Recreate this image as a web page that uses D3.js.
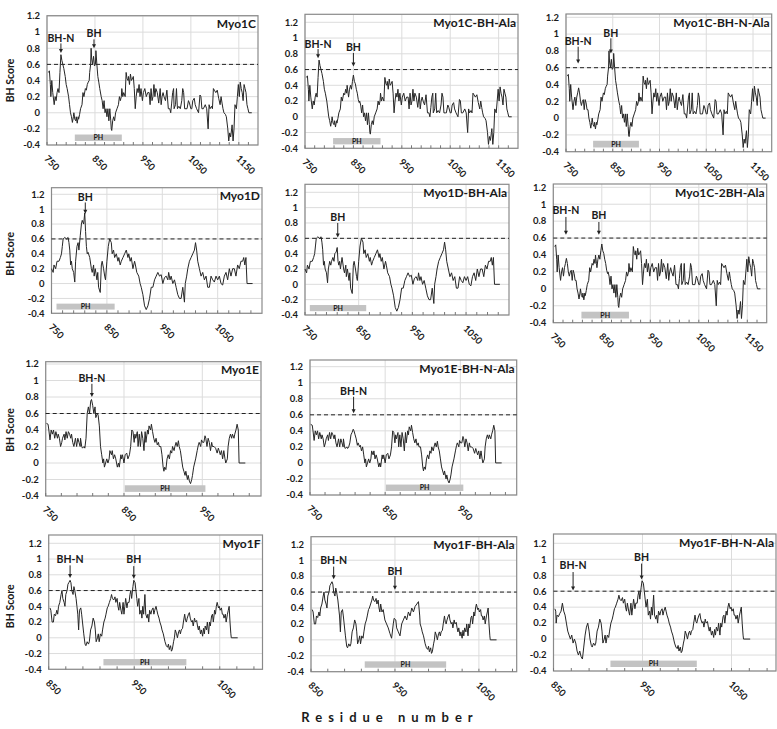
<!DOCTYPE html>
<html><head><meta charset="utf-8">
<script src="https://cdn.jsdelivr.net/npm/d3@7"></script>
<style>
body{margin:0;background:#fff}
svg{display:block}
text{font-family:Lato,"Open Sans",sans-serif;font-weight:bold;fill:#1a1a1a}
</style></head>
<body><svg id="c" width="777" height="729"></svg>
<script>
// ---------------- DATA ----------------
const yTicks = [-0.4, -0.2, 0, 0.2, 0.4, 0.6, 0.8, 1, 1.2];
const threshold = 0.6;
const ticks1C = [750, 850, 950, 1050, 1150];
const ticks1D = [750, 850, 950, 1050];
const ticks1E = [750, 850, 950];
const ticks1F = [850, 950, 1050];

// [residue, BH score]
const myo1C = [[753,0.5],[755,0.52],[757,0.35],[758,0.2],[760,0.4],[762,0.25],[765,0.1],[767,0.2],[769,0.15],[771,0.25],[773,0.3],[775,0.25],[777,0.5],[779,0.72],[781,0.65],[783,0.6],[785,0.55],[788,0.45],[790,0.35],[792,0.3],[795,0.2],[797,0.1],[799,0.0],[801,-0.05],[803,-0.12],[805,-0.05],[806,0.0],[808,-0.08],[810,-0.1],[811,-0.05],[813,-0.13],[815,-0.05],[816,-0.08],[818,-0.02],[820,0.05],[823,0.1],[825,0.25],[827,0.2],[830,0.3],[832,0.28],[834,0.35],[836,0.38],[838,0.4],[839,0.5],[841,0.6],[842,0.8],[843,0.68],[845,0.6],[847,0.7],[849,0.58],[851,0.6],[852,0.77],[854,0.6],[856,0.45],[858,0.38],[860,0.3],[863,0.2],[865,0.15],[867,0.05],[869,0.15],[871,0.0],[873,0.05],[875,-0.05],[877,0.05],[879,-0.1],[881,0.05],[883,-0.1],[884,-0.2],[885,-0.22],[887,-0.1],[889,-0.05],[891,-0.1],[893,0.0],[896,0.05],[899,0.1],[901,0.2],[903,0.15],[905,0.2],[906,0.3],[908,0.2],[910,0.25],[913,0.2],[915,0.5],[917,0.42],[919,0.4],[920,0.45],[922,0.35],[924,0.48],[926,0.4],[928,0.42],[930,0.45],[932,0.3],[934,0.05],[936,0.2],[938,0.3],[940,0.25],[942,0.35],[944,0.2],[946,0.3],[949,0.15],[951,0.25],[954,0.3],[957,0.2],[960,0.25],[963,0.25],[965,0.1],[967,0.3],[969,0.15],[971,0.2],[973,0.35],[975,0.2],[977,0.3],[980,0.25],[983,0.12],[986,0.3],[988,0.1],[990,0.2],[992,0.25],[994,0.2],[997,0.15],[1000,0.28],[1003,0.05],[1006,0.05],[1008,0.0],[1010,0.12],[1012,0.25],[1014,0.3],[1015,0.05],[1018,0.1],[1020,0.3],[1022,0.05],[1025,0.08],[1028,0.05],[1031,0.15],[1033,0.3],[1035,0.25],[1037,0.05],[1040,0.05],[1042,0.05],[1045,0.15],[1047,0.12],[1050,0.05],[1052,0.05],[1054,0.15],[1057,0.18],[1059,0.1],[1062,0.05],[1066,0.0],[1069,0.22],[1071,0.2],[1073,0.05],[1076,0.05],[1080,0.1],[1083,0.05],[1086,-0.2],[1088,0.1],[1090,0.05],[1093,0.08],[1095,0.05],[1097,0.3],[1099,0.28],[1102,0.25],[1105,0.28],[1108,0.18],[1111,0.1],[1113,0.2],[1115,0.12],[1117,0.05],[1119,0.0],[1122,-0.02],[1124,-0.05],[1127,-0.2],[1129,-0.35],[1131,-0.25],[1133,-0.3],[1135,-0.2],[1136,-0.15],[1138,-0.35],[1140,-0.2],[1142,0.1],[1145,0.05],[1147,0.2],[1149,0.35],[1151,0.2],[1153,0.38],[1155,0.3],[1157,0.25],[1159,0.15],[1161,0.35],[1163,0.3],[1165,0.25],[1167,0.1],[1169,0.05],[1171,0.0],[1177,0.0]];
// BH -> Ala replacement segment (residues 836-862)
const myo1C_BHAla = [[836,0.3],[837,0.4],[839,0.3],[840,0.25],[842,0.35],[844,0.4],[846,0.35],[848,0.45],[850,0.53],[852,0.45],[854,0.42],[856,0.35],[858,0.3],[860,0.22],[862,0.18]];
// BH-N -> Ala replacement segment (residues 767-795)
const myo1C_BHNAla = [[767,0.2],[769,0.25],[771,0.15],[773,0.25],[775,0.3],[777,0.36],[779,0.3],[781,0.2],[783,0.15],[785,0.2],[787,0.22],[789,0.1],[791,0.22],[793,0.18],[795,0.1]];

const myo1D = [[750,0.2],[753,0.15],[754.5,0.25],[757.5,0.2],[760,0.3],[763.5,0.3],[766,0.35],[768,0.4],[769.5,0.5],[771,0.6],[774,0.62],[777,0.6],[780,0.62],[781.5,0.55],[783,0.45],[784.5,0.25],[786,0.3],[787.5,0.2],[790,0.15],[792,0.02],[793.5,0.3],[796,0.5],[798,0.55],[799.5,0.45],[802,0.65],[804,0.8],[805.5,0.85],[808,0.8],[810,0.95],[811.5,0.7],[813,0.5],[814.5,0.4],[816,0.42],[819,0.35],[822,0.2],[823.5,0.15],[826,0.25],[827,0.1],[829,0.2],[832,0.05],[833.5,0.15],[835,-0.05],[838,-0.12],[840,0.25],[841.5,0.3],[844,0.2],[846,0.1],[847.5,0.05],[850,0.3],[852.5,0.5],[855,0.6],[858,0.55],[859.5,0.4],[862,0.45],[864,0.35],[867,0.4],[870,0.3],[871.5,0.35],[874,0.25],[876,0.3],[879,0.35],[882,0.4],[885,0.45],[888,0.35],[889.5,0.4],[892,0.3],[894,0.35],[897,0.2],[900,0.3],[901.5,0.25],[904,0.15],[907.5,0.1],[910,0.0],[912,-0.05],[915,-0.15],[918,-0.3],[921,-0.35],[924,-0.3],[927,-0.2],[930,-0.05],[933,-0.05],[936,0.05],[939,0.1],[942,0.15],[945,0.1],[948,0.12],[951,0.0],[954,0.08],[957,0.1],[960,0.05],[961.5,0.15],[964,0.05],[966,0.1],[969,0.0],[972,0.05],[975,-0.05],[978,-0.15],[981,-0.2],[984,-0.2],[987,-0.05],[990,-0.25],[991.5,0.0],[994,0.1],[996,0.2],[999,0.3],[1002,0.35],[1005,0.4],[1008,0.45],[1010,0.55],[1012,0.45],[1014,0.3],[1017,0.2],[1020,0.1],[1023,0.15],[1026,0.05],[1029,0.1],[1032,-0.05],[1035,-0.05],[1038,0.1],[1041,0.05],[1044,0.02],[1047,0.1],[1050,0.05],[1053,0.1],[1056,0.0],[1059,-0.02],[1062,0.1],[1065,0.15],[1068,0.05],[1071,0.2],[1074,0.1],[1077,0.2],[1080,0.2],[1083,0.1],[1086,0.25],[1089,0.2],[1092,0.3],[1095,0.3],[1097,0.35],[1099,0.25],[1101,0.35],[1103,0.0],[1113,0.0]];
const myo1D_BHAla = [[793.5,0.2],[796,0.3],[798,0.25],[799.5,0.3],[802,0.35],[804,0.3],[805.5,0.4],[808,0.42],[810,0.48],[811.5,0.3],[813,0.25],[814.5,0.3],[816,0.2]];

const myo1E = [[751,0.48],[753,0.47],[754,0.4],[755.5,0.28],[757,0.4],[758.5,0.35],[760,0.4],[761.5,0.3],[763,0.38],[765,0.3],[766,0.35],[767.5,0.3],[769,0.2],[770.5,0.25],[771.5,0.3],[773.5,0.35],[774.5,0.28],[776,0.38],[777.5,0.3],[779,0.38],[780.5,0.35],[782,0.3],[783,0.35],[784.5,0.25],[786,0.2],[788,0.3],[789.5,0.2],[791,0.3],[792.5,0.25],[794,0.2],[794.5,0.3],[796,0.2],[797,0.18],[799,0.2],[800,0.18],[801.5,0.3],[803,0.6],[804.5,0.68],[806,0.6],[807.5,0.75],[808.5,0.77],[810,0.7],[811.5,0.6],[813,0.68],[814,0.55],[816,0.6],[817,0.58],[818.5,0.45],[820,0.2],[821.5,0.1],[823,0.0],[824,0.05],[825,-0.05],[826.5,0.0],[828,0.05],[829.5,0.0],[831,0.05],[832,0.15],[834,0.1],[835,0.15],[836.5,0.05],[838,0.1],[839.5,0.05],[841.5,-0.05],[843,0.0],[844,-0.05],[846,0.1],[847,0.05],[848,0.1],[850,0.0],[851.5,0.1],[853.5,0.12],[855,0.05],[857,0.1],[858.5,0.2],[860,0.4],[861.5,0.38],[863,0.25],[864,0.35],[865,0.3],[867,0.38],[868,0.2],[869.5,0.35],[871,0.2],[872.5,0.38],[874,0.3],[875.5,0.15],[877,0.38],[878,0.25],[880,0.4],[881,0.35],[882,0.45],[884,0.4],[885,0.47],[886.5,0.38],[888,0.3],[889.5,0.25],[891,0.3],[892.5,0.22],[894,0.25],[895,0.2],[897,0.2],[898.5,0.1],[900,-0.05],[901,-0.1],[902,-0.05],[903.5,-0.08],[905,0.05],[906.5,0.1],[908,0.05],[909.5,0.15],[911,0.12],[912,0.2],[914,0.15],[915,0.2],[916.5,0.25],[918,0.2],[919.5,0.27],[920.5,0.2],[922,0.15],[923.5,0.05],[925,-0.05],[926.5,-0.1],[928,-0.15],[929,-0.1],[931,-0.2],[932,-0.15],[933.5,-0.22],[935,-0.25],[936.5,-0.2],[937.5,-0.15],[939,-0.05],[941.5,0.05],[943.5,0.15],[945,0.22],[946,0.25],[948,0.2],[949,0.28],[950.5,0.25],[952,0.25],[953.5,0.33],[954.5,0.3],[956,0.2],[957.5,0.3],[959,0.25],[960.5,0.15],[962,0.25],[963,0.2],[965,0.2],[967,0.18],[969,0.12],[970.5,0.18],[971.5,0.15],[973,0.1],[974.5,0.15],[976,0.05],[977.5,0.15],[979,0.05],[980,0.0],[982,0.05],[983,0.2],[984.5,0.3],[986,0.35],[987.5,0.3],[988.5,0.35],[990.5,0.3],[991.5,0.35],[993,0.4],[994.5,0.47],[996,0.4],[997,0.0],[1005,0.0]];
const myo1E_BHNAla = [[801.5,0.2],[803,0.25],[804.5,0.35],[806,0.38],[807.5,0.42],[808.5,0.4],[810,0.35],[811.5,0.3],[813,0.22],[814,0.25],[816,0.2],[817,0.22],[818.5,0.15]];

const myo1F = [[851.5,0.38],[852.5,0.35],[854,0.2],[855.5,0.2],[856.5,0.3],[858,0.28],[859.5,0.35],[860.5,0.3],[861.5,0.4],[863,0.45],[864.5,0.55],[865.5,0.6],[866.5,0.5],[868,0.45],[869,0.4],[870,0.55],[871.5,0.6],[872.5,0.68],[873.5,0.7],[875,0.73],[876,0.7],[877,0.6],[878.5,0.55],[879.5,0.65],[880.5,0.6],[882,0.5],[883,0.4],[884,0.3],[885,0.1],[886,0.35],[887.5,0.38],[888.5,0.3],[889.5,0.2],[891,0.05],[892.5,-0.08],[893.5,-0.1],[895,-0.05],[896.5,-0.08],[897.5,-0.05],[899,0.1],[900.5,0.15],[902,0.25],[903.5,0.2],[904.5,0.1],[905.5,-0.05],[907,0.0],[908,0.05],[909,-0.05],[910.5,0.05],[912,0.02],[913,0.1],[914.5,0.2],[916,0.25],[917,0.3],[918.5,0.38],[919.5,0.4],[921,0.45],[922.5,0.5],[923.5,0.55],[924.5,0.5],[926,0.48],[927.5,0.52],[928.5,0.45],[930,0.5],[931,0.4],[932,0.35],[933,0.45],[934.5,0.35],[935.5,0.3],[937,0.45],[938,0.3],[939,0.4],[940,0.5],[941.5,0.38],[942.5,0.45],[944,0.45],[945,0.55],[946,0.6],[947,0.5],[948.5,0.65],[949.5,0.73],[951,0.7],[952,0.6],[953,0.5],[954,0.4],[955.5,0.5],[956.5,0.3],[958,0.35],[959,0.25],[960,0.4],[961,0.3],[962.5,0.55],[963.5,0.3],[965,0.25],[966,0.3],[967,0.2],[968,0.35],[969.5,0.3],[970.5,0.35],[972,0.38],[973,0.3],[974,0.35],[975.5,0.4],[976.5,0.35],[977.5,0.3],[979,0.25],[980,0.2],[981.5,0.15],[982.5,0.1],[984,0.05],[985,0.0],[986,-0.05],[987.5,-0.1],[989,-0.12],[990,-0.08],[991,-0.15],[992.5,-0.1],[993.5,-0.17],[994.5,-0.15],[996,-0.05],[997,0.0],[998,0.1],[999.5,0.05],[1000.5,0.0],[1002,0.08],[1003,0.1],[1004,0.05],[1005,0.1],[1006.5,0.12],[1007.5,0.2],[1009,0.3],[1010,0.22],[1011,0.2],[1012,0.25],[1013.5,0.3],[1014.5,0.32],[1015.5,0.25],[1017,0.2],[1018,0.22],[1019,0.15],[1020.5,0.25],[1021.5,0.2],[1023,0.22],[1024,0.15],[1025,0.1],[1026,0.15],[1027.5,0.05],[1028.5,0.1],[1030,0.02],[1031,0.12],[1032,0.05],[1033,0.15],[1034.5,0.1],[1035.5,0.2],[1037,0.05],[1038,0.2],[1039,0.15],[1040.5,0.28],[1041.5,0.3],[1042.5,0.2],[1044,0.35],[1045,0.3],[1046,0.4],[1047,0.45],[1048.5,0.38],[1049.5,0.4],[1050.5,0.35],[1052,0.38],[1053,0.3],[1054,0.3],[1055,0.25],[1056.5,0.3],[1057.5,0.2],[1059,0.3],[1060,0.35],[1061,0.4],[1062,0.2],[1063,0.05],[1063.5,0.0],[1071,0.0]];
const myo1F_BHAla = [[934.5,0.35],[936,0.38],[938,0.25],[940,0.2],[942,0.15],[944,0.08],[946,0.02],[948,0.2],[949,0.27],[951,0.25],[952,0.15],[954,0.1],[956,0.05],[958,0.2],[960,0.25],[962,0.3],[964,0.25],[966,0.35],[968,0.3],[970,0.4],[972,0.35],[974,0.42],[976,0.45],[978,0.48],[979.5,0.3]];
const myo1F_BHNAla = [[853,0.2],[854,0.3],[855.5,0.28],[857,0.32],[858.5,0.35],[860,0.45],[861.5,0.35],[863,0.3],[864.5,0.2],[866,0.1],[867.5,0.05],[869,0.0],[870.5,0.05],[872,-0.05],[873.5,0.0],[875,-0.05],[876.5,-0.15],[878,-0.2],[879.5,-0.15],[881,-0.22],[882.5,-0.25],[884,-0.1],[885.5,0.05],[887,0.15],[888.5,0.2],[890,0.1],[891,0.0]];

// PH domain extents (residues)
const ph1C = [808, 906], ph1D = [759, 864], ph1E = [851, 954], ph1F = [914, 1011];

// replace a residue range of a base profile with a measured segment
function withSegment(base, seg) {
  const a = seg[0][0], b = seg[seg.length - 1][0];
  return base.filter(d => d[0] < a || d[0] > b).concat(seg).sort((p, q) => p[0] - q[0]);
}

// annotations: [label, residue, text value, arrow top value, arrow tip value]
const panels = [
  {title:"Myo1C", data: myo1C, dom:[750,1190], ticks: ticks1C, ph: ph1C,
   ann:[["BH-N",779,0.88,0.86,0.74],["BH",848,0.94,0.91,0.8]],
   box:[47,258,15.7,16,145], ytitle:true},
  {title:"Myo1C-BH-Ala", data: withSegment(myo1C, myo1C_BHAla), dom:[750,1190], ticks: ticks1C, ph: ph1C,
   ann:[["BH-N",777,0.87,0.86,0.745],["BH",850,0.83,0.81,0.64]],
   box:[305,518,14.3,22.3,148.3]},
  {title:"Myo1C-BH-N-Ala", data: withSegment(myo1C, myo1C_BHNAla), dom:[750,1190], ticks: ticks1C, ph: ph1C,
   ann:[["BH-N",776,0.87,0.85,0.65],["BH",846,0.97,0.95,0.77]],
   box:[566,771.7,14,17.3,151.7]},
  {title:"Myo1D", data: myo1D, dom:[750,1130], ticks: ticks1D, ph: ph1D,
   ann:[["BH",811,1.11,1.09,0.94]],
   box:[51.5,262,187.7,194.3,313.3], ytitle:true},
  {title:"Myo1D-BH-Ala", data: withSegment(myo1D, myo1D_BHAla), dom:[750,1130], ticks: ticks1D, ph: ph1D,
   ann:[["BH",811,0.83,0.8,0.61]],
   box:[305,509,184.3,192.3,315]},
  {title:"Myo1C-2BH-Ala", data: withSegment(withSegment(myo1C, myo1C_BHNAla), myo1C_BHAla), dom:[750,1190], ticks: ticks1C, ph: ph1C,
   ann:[["BH-N",776,0.885,0.85,0.64],["BH",844,0.826,0.79,0.64]],
   box:[553.3,766.7,184,187.3,322.7]},
  {title:"Myo1E", data: myo1E, dom:[750,1025], ticks: ticks1E, ph: ph1E,
   ann:[["BH-N",809,0.986,0.96,0.8]],
   box:[45.7,261,361.7,364,496], ytitle:true},
  {title:"Myo1E-BH-N-Ala", data: withSegment(myo1E, myo1E_BHNAla), dom:[750,1025], ticks: ticks1E, ph: ph1E,
   ann:[["BH-N",808,0.846,0.825,0.62]],
   box:[310,516.7,360,366.7,495]},
  {title:"Myo1F", data: myo1F, dom:[850,1100], ticks: ticks1F, ph: ph1F,
   ann:[["BH-N",875,0.946,0.92,0.76],["BH",949.5,0.946,0.91,0.75]],
   box:[48.7,262.5,535,543.3,669.3], ytitle:true},
  {title:"Myo1F-BH-Ala", data: withSegment(myo1F, myo1F_BHAla), dom:[850,1095], ticks: ticks1F, ph: ph1F,
   ann:[["BH-N",877,0.95,0.92,0.76],["BH",950,0.82,0.8,0.63]],
   box:[311,516.7,536.7,544.3,671.7]},
  {title:"Myo1F-BH-N-Ala", data: withSegment(myo1F, myo1F_BHNAla), dom:[850,1100], ticks: ticks1F, ph: ph1F,
   ann:[["BH-N",872,0.875,0.84,0.61],["BH",949,0.98,0.946,0.745]],
   box:[553.5,776,534,543.3,671]}
];

// ---------------- DRAW ----------------
const svg = d3.select("#c");
panels.forEach(p => {
  const [x0, x1, bTop, y12, yBot] = p.box;
  const x = d3.scaleLinear().domain(p.dom).range([x0, x1]);
  const y = d3.scaleLinear().domain([-0.4, 1.2]).range([yBot, y12]);
  const g = svg.append("g");

  // horizontal grid
  g.selectAll("line.hg").data(yTicks).join("line")
    .attr("x1", x0).attr("x2", x1).attr("y1", d => y(d)).attr("y2", d => y(d))
    .attr("stroke", "#dcdcdc").attr("stroke-width", 1);
  // vertical grid
  g.selectAll("line.vg").data(p.ticks).join("line")
    .attr("x1", d => x(d)).attr("x2", d => x(d)).attr("y1", bTop).attr("y2", yBot)
    .attr("stroke", "#dcdcdc").attr("stroke-width", 1);
  // frame
  g.append("rect").attr("x", x0).attr("y", bTop).attr("width", x1 - x0).attr("height", yBot - bTop)
    .attr("fill", "none").attr("stroke", "#8a8a8a").attr("stroke-width", 1.2);
  // minor ticks every 20 residues along bottom axis
  const minor = d3.range(p.dom[0], p.dom[1], 20);
  g.selectAll("line.mt").data(minor).join("line")
    .attr("x1", d => x(d)).attr("x2", d => x(d)).attr("y1", yBot).attr("y2", yBot - 3)
    .attr("stroke", "#777").attr("stroke-width", 1);

  // y tick labels
  g.selectAll("text.yt").data(yTicks).join("text")
    .attr("x", x0 - 7).attr("y", d => y(d)).attr("dy", "0.35em")
    .attr("text-anchor", "end").attr("font-size", 9.5).text(d => String(d));
  // x tick labels, rotated
  g.selectAll("text.xt").data(p.ticks).join("text")
    .attr("transform", d => `translate(${x(d) - 1},${yBot + 12}) rotate(45)`)
    .attr("dy", "0.35em").attr("text-anchor", "start").attr("font-size", 9.5).text(d => d);

  // threshold
  g.append("line").attr("x1", x0).attr("x2", x1).attr("y1", y(threshold)).attr("y2", y(threshold))
    .attr("stroke", "#222").attr("stroke-width", 1).attr("stroke-dasharray", "4,3");

  // PH bar
  const phY = y(-0.27), phH = y(-0.35) - y(-0.27);
  g.append("rect").attr("x", x(p.ph[0])).attr("y", phY).attr("width", x(p.ph[1]) - x(p.ph[0])).attr("height", phH)
    .attr("fill", "#c3c3c3");
  g.append("text").attr("x", (x(p.ph[0]) + x(p.ph[1])) / 2).attr("y", phY + phH / 2).attr("dy", "0.35em")
    .attr("text-anchor", "middle").attr("font-size", 7).text("PH");

  // profile
  const line = d3.line().x(d => x(d[0])).y(d => y(d[1]));
  g.append("path").datum(p.data).attr("d", line)
    .attr("fill", "none").attr("stroke", "#262626").attr("stroke-width", 1).attr("stroke-linejoin", "round");

  // annotations
  p.ann.forEach(a => {
    const [lab, res, tv, at, ab] = a;
    const ax = x(res);
    g.append("text").attr("x", ax).attr("y", y(tv)).attr("text-anchor", "middle")
      .attr("font-size", 10.5).text(lab);
    g.append("line").attr("x1", ax).attr("x2", ax).attr("y1", y(at)).attr("y2", y(ab) - 3)
      .attr("stroke", "#222").attr("stroke-width", 1);
    g.append("path").attr("d", `M${ax - 2},${y(ab) - 4}L${ax + 2},${y(ab) - 4}L${ax},${y(ab)}Z`).attr("fill", "#222");
  });

  // title
  g.append("text").attr("x", x1 - 2).attr("y", bTop + 12.5).attr("text-anchor", "end")
    .attr("font-size", 12).text(p.title);

  // y-axis title
  if (p.ytitle) {
    const cy = (y12 + yBot) / 2;
    g.append("text").attr("transform", `translate(14,${cy}) rotate(-90)`)
      .attr("text-anchor", "middle").attr("font-size", 10.5).text("BH Score");
  }
});

svg.append("text").attr("x", 390).attr("y", 722).attr("text-anchor", "middle")
  .attr("font-size", 13).attr("letter-spacing", 6).text("Residue number");
</script></body></html>
